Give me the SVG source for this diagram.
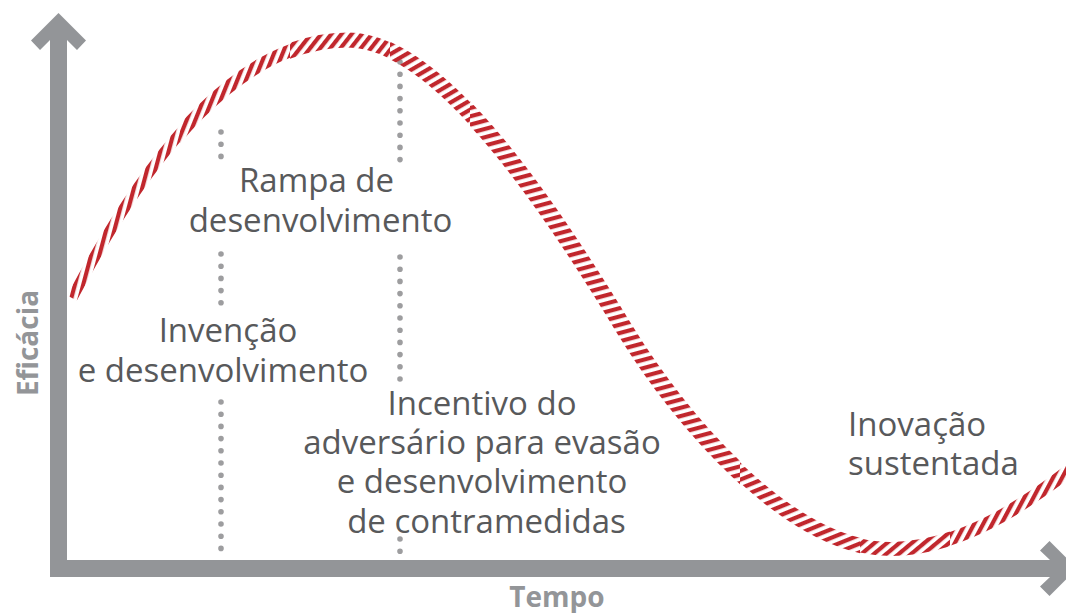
<svg xmlns="http://www.w3.org/2000/svg" width="1066" height="613" viewBox="0 0 1066 613">
<style>
.lbl{font-family:"Open Sans","Liberation Sans",sans-serif;font-size:33px;fill:#58595b;text-anchor:middle}
.ax{font-family:"Open Sans","Liberation Sans",sans-serif;font-size:28px;font-weight:bold;fill:#939598;text-anchor:middle}
.dots{stroke:#9d9d9f;stroke-width:5.6;stroke-linecap:round;stroke-dasharray:0 12.2;fill:none}
.axis{fill:#939598}
.band{fill:none;stroke-linecap:butt}
.st{fill:#c1272d}
</style>
<defs>
<pattern id="a75" patternUnits="userSpaceOnUse" width="8" height="8" patternTransform="rotate(15)"><rect class="st" width="4.2" height="8"/></pattern>
<pattern id="a68" patternUnits="userSpaceOnUse" width="8" height="8" patternTransform="rotate(22)"><rect class="st" width="4.2" height="8"/></pattern>
<pattern id="a52" patternUnits="userSpaceOnUse" width="8" height="8" patternTransform="rotate(38)"><rect class="st" width="4.2" height="8"/></pattern>
<pattern id="a30" patternUnits="userSpaceOnUse" width="8" height="8" patternTransform="rotate(60)"><rect class="st" width="4.2" height="8"/></pattern>
<pattern id="a15" patternUnits="userSpaceOnUse" width="8" height="8" patternTransform="rotate(75)"><rect class="st" width="4.2" height="8"/></pattern>
<pattern id="a22" patternUnits="userSpaceOnUse" width="8" height="8" patternTransform="rotate(68)"><rect class="st" width="4.2" height="8"/></pattern>
<pattern id="a40" patternUnits="userSpaceOnUse" width="8" height="8" patternTransform="rotate(50)"><rect class="st" width="4.2" height="8"/></pattern>
<pattern id="a62" patternUnits="userSpaceOnUse" width="8" height="8" patternTransform="rotate(28)"><rect class="st" width="4.2" height="8"/></pattern>
<path id="curve" d="M72,298 C150,150 240,40 348,40 C435,40 540,190 625,330 C680,420 790,549 890,549 C960,549 1025,505 1075,466"/>
<clipPath id="c1"><rect x="60" y="0" width="120" height="613"/></clipPath>
<clipPath id="c2"><rect x="180" y="0" width="110" height="613"/></clipPath>
<clipPath id="c3"><rect x="290" y="0" width="100" height="613"/></clipPath>
<clipPath id="c4"><rect x="390" y="0" width="80" height="613"/></clipPath>
<clipPath id="c5"><rect x="470" y="0" width="270" height="613"/></clipPath>
<clipPath id="c6"><rect x="740" y="0" width="120" height="613"/></clipPath>
<clipPath id="c7"><rect x="860" y="0" width="90" height="613"/></clipPath>
<clipPath id="c8"><rect x="950" y="0" width="130" height="613"/></clipPath>
</defs>
<g id="axes">
<polygon class="axis" points="58.5,13 86,40.5 77,50 67,40 67,577 50,577 50,40 40,50 31,40.5"/>
<polygon class="axis" points="1077,568.5 1049.5,596 1040,586.5 1050,577 50,577 50,560 1050,560 1040,550.5 1049.5,541"/>
</g>
<g id="connectors">
<line class="dots" x1="221" y1="132" x2="221" y2="156.5"/>
<line class="dots" x1="221" y1="254" x2="221" y2="303"/>
<line class="dots" x1="221" y1="402" x2="221" y2="549"/>
<line class="dots" x1="400" y1="62" x2="400" y2="160"/>
<line class="dots" x1="400" y1="257" x2="400" y2="380"/>
<line class="dots" x1="400" y1="539" x2="400" y2="551.5"/>
</g>
<g id="curve-band">
<use href="#curve" class="band" stroke="url(#a75)" stroke-width="11" clip-path="url(#c1)"/>
<use href="#curve" class="band" stroke="url(#a68)" stroke-width="13" clip-path="url(#c2)"/>
<use href="#curve" class="band" stroke="url(#a52)" stroke-width="15" clip-path="url(#c3)"/>
<use href="#curve" class="band" stroke="url(#a30)" stroke-width="16" clip-path="url(#c4)"/>
<use href="#curve" class="band" stroke="url(#a15)" stroke-width="17" clip-path="url(#c5)"/>
<use href="#curve" class="band" stroke="url(#a22)" stroke-width="15" clip-path="url(#c6)"/>
<use href="#curve" class="band" stroke="url(#a40)" stroke-width="14" clip-path="url(#c7)"/>
<use href="#curve" class="band" stroke="url(#a62)" stroke-width="13" clip-path="url(#c8)"/>
</g>
<g id="node-rampa">
<text class="lbl" x="316.5" y="192">Rampa de</text>
<text class="lbl" x="320.5" y="231.5">desenvolvimento</text>
</g>
<g id="node-invencao">
<text class="lbl" x="228" y="341.5">Invenção</text>
<text class="lbl" x="223" y="381.5">e desenvolvimento</text>
</g>
<g id="node-incentivo">
<text class="lbl" x="482" y="415">Incentivo do</text>
<text class="lbl" x="482" y="454">adversário para evasão</text>
<text class="lbl" x="482" y="493">e desenvolvimento</text>
<text class="lbl" x="486.5" y="533">de contramedidas</text>
</g>
<g id="node-inovacao">
<text class="lbl" x="848" y="436" style="text-anchor:start">Inovação</text>
<text class="lbl" x="848" y="475" style="text-anchor:start">sustentada</text>
</g>
<g id="axis-labels">
<text class="ax" transform="translate(38,343) rotate(-90)">Eficácia</text>
<text class="ax" x="557" y="607">Tempo</text>
</g>
</svg>
